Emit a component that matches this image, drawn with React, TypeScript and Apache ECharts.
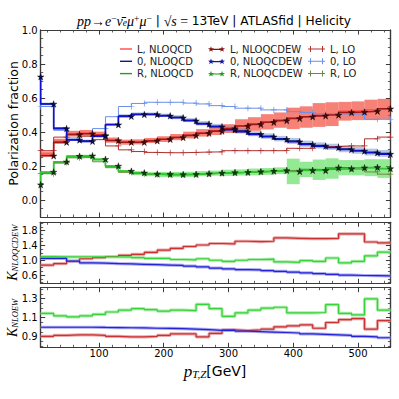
import React, { useEffect, useRef } from "react";
import * as echarts from "echarts";

// Bin edges of the pT,Z distribution (GeV)
const binEdges = [10, 30, 50, 70, 90, 110, 130, 150, 170, 190, 210, 230, 250, 270, 290, 310, 330, 350, 370, 390, 410, 430, 450, 470, 490, 510, 530, 550];

// ---- Polarization fractions (main panel), one value per bin ----
const L_NLOQCD = [0.27, 0.345, 0.39, 0.395, 0.385, 0.352, 0.34, 0.342, 0.35, 0.358, 0.37, 0.382, 0.395, 0.407, 0.42, 0.435, 0.447, 0.46, 0.47, 0.48, 0.488, 0.5, 0.505, 0.522, 0.525, 0.53, 0.535];
const L_NLOQCD_unc = [0.015, 0.015, 0.017, 0.017, 0.017, 0.015, 0.015, 0.015, 0.015, 0.017, 0.018, 0.02, 0.022, 0.025, 0.026, 0.04, 0.04, 0.045, 0.045, 0.063, 0.063, 0.07, 0.07, 0.055, 0.055, 0.06, 0.06];
const O_NLOQCD = [0.565, 0.422, 0.355, 0.347, 0.378, 0.445, 0.495, 0.505, 0.505, 0.498, 0.487, 0.47, 0.451, 0.435, 0.418, 0.406, 0.39, 0.376, 0.361, 0.347, 0.331, 0.321, 0.313, 0.301, 0.292, 0.282, 0.274];
const O_NLOQCD_unc = [0.008, 0.008, 0.008, 0.008, 0.008, 0.008, 0.01, 0.01, 0.01, 0.01, 0.012, 0.012, 0.013, 0.013, 0.014, 0.015, 0.015, 0.016, 0.016, 0.018, 0.018, 0.018, 0.018, 0.02, 0.02, 0.02, 0.02];
const R_NLOQCD = [0.16, 0.22, 0.255, 0.258, 0.238, 0.198, 0.168, 0.158, 0.152, 0.15, 0.15, 0.151, 0.155, 0.158, 0.16, 0.162, 0.165, 0.168, 0.172, 0.168, 0.18, 0.178, 0.185, 0.19, 0.19, 0.19, 0.185];
const R_NLOQCD_unc = [0.008, 0.008, 0.008, 0.008, 0.008, 0.008, 0.008, 0.012, 0.012, 0.015, 0.015, 0.015, 0.015, 0.015, 0.018, 0.018, 0.02, 0.02, 0.02, 0.075, 0.045, 0.06, 0.06, 0.045, 0.045, 0.05, 0.055];

const L_NLOQCDEW = [0.26, 0.34, 0.385, 0.39, 0.38, 0.35, 0.34, 0.34, 0.348, 0.357, 0.368, 0.38, 0.393, 0.405, 0.42, 0.435, 0.445, 0.457, 0.467, 0.48, 0.49, 0.495, 0.5, 0.515, 0.518, 0.522, 0.537];
const O_NLOQCDEW_first = 0.725;
const O_NLOQCDEW = [0.565, 0.42, 0.353, 0.345, 0.376, 0.443, 0.492, 0.503, 0.503, 0.495, 0.484, 0.466, 0.447, 0.431, 0.413, 0.402, 0.386, 0.372, 0.357, 0.343, 0.327, 0.317, 0.309, 0.297, 0.288, 0.278, 0.27];
const R_NLOQCDEW_first = 0.09;
const R_NLOQCDEW = [0.165, 0.225, 0.258, 0.26, 0.24, 0.2, 0.17, 0.16, 0.153, 0.151, 0.15, 0.151, 0.155, 0.159, 0.162, 0.163, 0.167, 0.17, 0.174, 0.168, 0.174, 0.174, 0.19, 0.184, 0.19, 0.192, 0.185];

const L_LO = [0.29, 0.37, 0.385, 0.375, 0.355, 0.318, 0.295, 0.285, 0.28, 0.278, 0.278, 0.28, 0.282, 0.283, 0.29, 0.29, 0.29, 0.29, 0.29, 0.304, 0.304, 0.314, 0.314, 0.318, 0.318, 0.36, 0.37];
const O_LO = [0.55, 0.41, 0.365, 0.38, 0.42, 0.49, 0.55, 0.568, 0.575, 0.575, 0.575, 0.57, 0.565, 0.555, 0.55, 0.54, 0.54, 0.53, 0.53, 0.52, 0.515, 0.507, 0.506, 0.505, 0.505, 0.475, 0.475];
const R_LO = [0.155, 0.22, 0.248, 0.25, 0.225, 0.19, 0.163, 0.155, 0.15, 0.148, 0.148, 0.15, 0.153, 0.157, 0.16, 0.162, 0.165, 0.168, 0.172, 0.175, 0.176, 0.178, 0.18, 0.182, 0.182, 0.165, 0.152];

// ---- K_NLOQCDEW ratio panel ----
const K_QCDEW_L = [0.87, 0.91, 0.97, 1.04, 1.07, 1.1, 1.13, 1.16, 1.21, 1.27, 1.32, 1.37, 1.41, 1.45, 1.44, 1.51, 1.5, 1.51, 1.6, 1.59, 1.58, 1.58, 1.59, 1.71, 1.71, 1.49, 1.465];
const K_QCDEW_0 = [1.05, 1.05, 0.98, 0.93, 0.92, 0.91, 0.9, 0.89, 0.88, 0.87, 0.86, 0.84, 0.82, 0.79, 0.77, 0.75, 0.74, 0.72, 0.7, 0.68, 0.66, 0.64, 0.62, 0.6, 0.59, 0.585, 0.58];
const K_QCDEW_R = [1.1, 1.09, 1.09, 1.09, 1.09, 1.09, 1.09, 1.07, 1.05, 1.05, 1.02, 1.01, 1.04, 1.0, 0.97, 1.0, 1.02, 1.03, 0.955, 0.94, 0.99, 0.97, 1.06, 0.93, 0.97, 1.12, 1.22];

// ---- K_NLOEW ratio panel ----
const K_EW_L = [0.905, 0.915, 0.92, 0.92, 0.915, 0.905, 0.9, 0.9, 0.905, 0.915, 0.93, 0.93, 0.9, 0.935, 0.972, 0.965, 0.972, 0.98, 1.005, 1.015, 1.025, 0.99, 1.05, 1.08, 1.09, 0.98, 1.07];
const K_EW_0 = [1.0, 1.0, 1.0, 1.0, 0.998, 0.997, 0.995, 0.993, 0.99, 0.988, 0.985, 0.98, 0.975, 0.968, 0.97, 0.96, 0.955, 0.95, 0.945, 0.94, 0.93, 0.925, 0.92, 0.915, 0.905, 0.9, 0.89];
const K_EW_R = [1.145, 1.12, 1.11, 1.12, 1.135, 1.16, 1.18, 1.195, 1.185, 1.17, 1.18, 1.175, 1.24, 1.195, 1.115, 1.15, 1.18, 1.2, 1.21, 1.15, 1.15, 1.155, 1.237, 1.145, 1.13, 1.297, 1.18];

// ---- Ticks ----
const xMajorTicks = [100, 200, 300, 400, 500];
const xMinorTicks = [20, 40, 60, 80, 100, 120, 140, 160, 180, 200, 220, 240, 260, 280, 300, 320, 340, 360, 380, 400, 420, 440, 460, 480, 500, 520, 540];
const yMainMajor = [0, 0.2, 0.4, 0.6, 0.8, 1.0];
const yMainMinor = [-0.1, -0.05, 0, 0.05, 0.1, 0.15, 0.2, 0.25, 0.3, 0.35, 0.4, 0.45, 0.5, 0.55, 0.6, 0.65, 0.7, 0.75, 0.8, 0.85, 0.9, 0.95, 1.0];
const yMidMajor = [0.6, 1.0, 1.4, 1.8];
const yMidMinor = [0.4, 0.5, 0.6, 0.7, 0.8, 0.9, 1.0, 1.1, 1.2, 1.3, 1.4, 1.5, 1.6, 1.7, 1.8, 1.9, 2.0];
const yBotMajor = [0.9, 1.1, 1.3];
const yBotMinor = [0.8, 0.85, 0.9, 0.95, 1.0, 1.05, 1.1, 1.15, 1.2, 1.25, 1.3, 1.35, 1.4];

const FRAME = "#3a3a3a";
const SANS = "DejaVu Sans";
const SERIF = "Liberation Serif";
const STAR = "path://M5,0L6.18,3.82L10,3.82L6.91,6.18L8.09,10L5,7.64L1.91,10L3.09,6.18L0,3.82L3.82,3.82Z";
const PLUS = "path://M0,4.4H10V5.6H0Z M4.4,0H5.6V10H4.4Z";
// legend icons: a line with a marker at each end, as matplotlib draws them
const ICON_LINE = "path://M0,0H120V14H0Z";
const ICON_STARS =
  "path://M32,2L39.06,22.29L60.53,22.73L43.41,35.71L49.64,56.27L32,44L14.36,56.27L20.59,35.71L3.47,22.73L24.94,22.29Z" +
  "M138,2L145.06,22.29L166.53,22.73L149.41,35.71L155.64,56.27L138,44L120.36,56.27L126.59,35.71L109.47,22.73L130.94,22.29Z" +
  "M32,27H138V38H32Z";
const ICON_PLUS = "path://M0,30H170V40H0Z M20,5H30V65H20Z M140,5H150V65H140Z";

function stepData(vals: number[], first?: number, hideFirst?: boolean): any[] {
  const head: any = hideFirst
    ? { value: [binEdges[0], first ?? vals[0]], symbol: "none" }
    : [binEdges[0], first ?? vals[0]];
  return [head, ...vals.map((v, i) => [binEdges[i + 1], v])];
}

function bandSeries(centers: number[], unc: number[], color: string) {
  return {
    type: "custom",
    xAxisIndex: 0,
    yAxisIndex: 0,
    silent: true,
    z: 1,
    encode: { x: [0, 1], y: [2, 3] },
    data: centers.map((c, i) => [binEdges[i], binEdges[i + 1], c - unc[i], c + unc[i]]),
    renderItem: (_p: any, api: any) => {
      const a = api.coord([api.value(0), api.value(3)]);
      const b = api.coord([api.value(1), api.value(2)]);
      return {
        type: "rect",
        shape: { x: a[0], y: a[1], width: b[0] - a[0], height: b[1] - a[1] },
        style: { fill: color },
      };
    },
  };
}

function line(name: string | undefined, data: any[], color: string, width: number, g: number, extra: any = {}) {
  return {
    type: "line",
    name,
    xAxisIndex: 4 * g,
    yAxisIndex: 4 * g,
    step: "start",
    data,
    symbol: "none",
    showAllSymbol: true,
    lineStyle: { color, width },
    itemStyle: { color },
    z: 3,
    ...extra,
  };
}

function starLine(name: string, data: any[], color: string, fill: string) {
  return line(name, data, color, 1.6, 0, {
    symbol: STAR,
    symbolSize: 6.5,
    itemStyle: { color: fill, borderColor: "#000", borderWidth: 0.4 },
    z: 5,
  });
}

function plusLine(name: string, data: any[], color: string) {
  return line(name, data, color, 1, 0, {
    symbol: PLUS,
    symbolSize: 6,
    itemStyle: { color },
    z: 4,
  });
}

function xAxes(g: number, labels: boolean) {
  const mk = (position: string, ticks: number[], len: number, showLabel: boolean) => ({
    type: "value",
    gridIndex: g,
    position,
    min: 10,
    max: 550,
    axisLine: { show: true, onZero: false, lineStyle: { color: FRAME, width: 1.2 } },
    axisTick: { show: true, inside: true, length: len, customValues: ticks, lineStyle: { color: FRAME, width: len > 3 ? 1 : 0.8 } },
    axisLabel: { show: showLabel, customValues: xMajorTicks, margin: 1, fontSize: 10, fontFamily: SANS, color: "#000" },
    splitLine: { show: false },
  });
  return [
    mk("bottom", xMajorTicks, 4.5, labels),
    mk("bottom", xMinorTicks, 2.5, false),
    mk("top", xMajorTicks, 4.5, false),
    mk("top", xMinorTicks, 2.5, false),
  ];
}

function yAxes(g: number, min: number, max: number, major: number[], minor: number[]) {
  const mk = (position: string, ticks: number[], len: number, showLabel: boolean) => ({
    type: "value",
    gridIndex: g,
    position,
    min,
    max,
    axisLine: { show: true, onZero: false, lineStyle: { color: FRAME, width: 1.2 } },
    axisTick: { show: true, inside: true, length: len, customValues: ticks, lineStyle: { color: FRAME, width: len > 3 ? 1 : 0.8 } },
    axisLabel: {
      show: showLabel,
      customValues: major,
      margin: 3,
      fontSize: 10,
      fontFamily: SANS,
      color: "#000",
      formatter: (v: number) => v.toFixed(1),
    },
    splitLine: { show: false },
  });
  return [
    mk("left", major, 4.5, true),
    mk("left", minor, 2.5, false),
    mk("right", major, 4.5, false),
    mk("right", minor, 2.5, false),
  ];
}

function ratioSeries(g: number, vals: number[], color: string, light: string) {
  const d = stepData(vals);
  return [
    line(undefined, d, light, 3.2, g, { z: 2, silent: true }),
    line(undefined, d, color, 1.2, g, { z: 3, silent: true }),
  ];
}

const legendBase = {
  orient: "vertical",
  top: 44,
  itemHeight: 7,
  itemGap: 2.3,
  padding: 0,
  selectedMode: false,
  textStyle: { fontSize: 10, fontFamily: SANS, color: "#222", lineHeight: 10 },
};

export default function App() {
  const ref = useRef<HTMLDivElement>(null);
  useEffect(() => {
    if (!ref.current) return;
    const chart = echarts.init(ref.current, null, { renderer: "svg" });
    const option: any = {
      animation: false,
      backgroundColor: "#fff",
      grid: [
        { left: 40.7, right: 8.6, top: 30, height: 187 },
        { left: 40.7, right: 8.6, top: 222.3, height: 61 },
        { left: 40.7, right: 8.6, top: 287.7, height: 59.6 },
      ],
      xAxis: [...xAxes(0, false), ...xAxes(1, false), ...xAxes(2, true)],
      yAxis: [
        ...yAxes(0, -0.1, 1.0, yMainMajor, yMainMinor),
        ...yAxes(1, 0.38, 2.02, yMidMajor, yMidMinor),
        ...yAxes(2, 0.79, 1.415, yBotMajor, yBotMinor),
      ],
      legend: [
        {
          ...legendBase,
          left: 120,
          itemWidth: 12,
          data: ["L, NLOQCD", "0, NLOQCD", "R, NLOQCD"].map((n) => ({ name: n, icon: ICON_LINE })),
        },
        {
          ...legendBase,
          left: 208,
          itemWidth: 17,
          data: [
            { name: "L, NLOQCDEW", icon: ICON_STARS, itemStyle: { color: "#8a1414", borderWidth: 0, borderColor: "#8a1414" } },
            { name: "0, NLOQCDEW", icon: ICON_STARS, itemStyle: { color: "#1414a0", borderWidth: 0, borderColor: "#1414a0" } },
            { name: "R, NLOQCDEW", icon: ICON_STARS, itemStyle: { color: "#1f9a1f", borderWidth: 0, borderColor: "#1f9a1f" } },
          ],
        },
        {
          ...legendBase,
          left: 308,
          itemWidth: 17,
          data: ["L, LO", "0, LO", "R, LO"].map((n) => ({ name: n, icon: ICON_PLUS })),
        },
      ],
      series: [
        bandSeries(L_NLOQCD, L_NLOQCD_unc, "rgba(240,70,55,0.68)"),
        bandSeries(O_NLOQCD, O_NLOQCD_unc, "rgba(90,130,190,0.45)"),
        bandSeries(R_NLOQCD, R_NLOQCD_unc, "rgba(60,215,60,0.55)"),
        line("L, NLOQCD", stepData(L_NLOQCD), "#ff4a4a", 1.3, 0),
        line("0, NLOQCD", stepData(O_NLOQCD), "#16167a", 1.3, 0),
        line("R, NLOQCD", stepData(R_NLOQCD), "#2a9a2a", 1.3, 0),
        plusLine("L, LO", stepData(L_LO), "#b03030"),
        plusLine("0, LO", stepData(O_LO), "#6a90ea"),
        plusLine("R, LO", stepData(R_LO), "#6b8a3c"),
        starLine("L, NLOQCDEW", stepData(L_NLOQCDEW, undefined, true), "#a01818", "#4a0808"),
        starLine("0, NLOQCDEW", stepData(O_NLOQCDEW, O_NLOQCDEW_first), "#1010d0", "#0a0a50"),
        starLine("R, NLOQCDEW", stepData(R_NLOQCDEW, R_NLOQCDEW_first), "#2ec82e", "#0a400a"),
        ...ratioSeries(1, K_QCDEW_L, "#c83232", "#eaa9a9"),
        ...ratioSeries(1, K_QCDEW_R, "#3ad23a", "#a9eca9"),
        ...ratioSeries(1, K_QCDEW_0, "#2222d8", "#aaaaf2"),
        ...ratioSeries(2, K_EW_L, "#c83232", "#eaa9a9"),
        ...ratioSeries(2, K_EW_R, "#3ad23a", "#a9eca9"),
        ...ratioSeries(2, K_EW_0, "#2222d8", "#aaaaf2"),
      ],
      graphic: [
        {
          type: "text",
          x: 214,
          y: 21,
          style: {
            text: "{m|pp}{r|→}{m|e}{sup|−}{m|ν̄}{sub|e}{m|μ}{sup|+}{m|μ}{sup|−}{s| | }{r|√}{m|s}{r| = }{s|13TeV | ATLASfid | Helicity}",
            align: "center",
            verticalAlign: "middle",
            fill: "#000",
            rich: {
              m: { fontFamily: SERIF, fontStyle: "italic", fontSize: 14, fill: "#000" },
              r: { fontFamily: SERIF, fontSize: 14, fill: "#000" },
              sup: { fontFamily: SERIF, fontSize: 9.5, verticalAlign: "top", fill: "#000" },
              sub: { fontFamily: SERIF, fontStyle: "italic", fontSize: 9.5, verticalAlign: "bottom", fill: "#000" },
              s: { fontFamily: SANS, fontSize: 12.2, fill: "#000" },
            },
          },
        },
        {
          type: "text",
          x: 13,
          y: 123.5,
          rotation: Math.PI / 2,
          style: { text: "Polarization fraction", fontFamily: SANS, fontSize: 12.5, fill: "#000", align: "center", verticalAlign: "middle" },
        },
        {
          type: "text",
          x: 12,
          y: 252.8,
          rotation: Math.PI / 2,
          style: {
            text: "{k|K}{s|NLOQCDEW}",
            align: "center",
            verticalAlign: "middle",
            rich: {
              k: { fontFamily: SERIF, fontStyle: "italic", fontSize: 14, fill: "#000" },
              s: { fontFamily: SERIF, fontStyle: "italic", fontSize: 8.5, verticalAlign: "bottom", fill: "#000" },
            },
          },
        },
        {
          type: "text",
          x: 12,
          y: 318,
          rotation: Math.PI / 2,
          style: {
            text: "{k|K}{s|NLOEW}",
            align: "center",
            verticalAlign: "middle",
            rich: {
              k: { fontFamily: SERIF, fontStyle: "italic", fontSize: 14, fill: "#000" },
              s: { fontFamily: SERIF, fontStyle: "italic", fontSize: 8.5, verticalAlign: "bottom", fill: "#000" },
            },
          },
        },
        {
          type: "text",
          x: 215,
          y: 371,
          style: {
            text: "{p|p}{s|T,Z}{g|[GeV]}",
            align: "center",
            verticalAlign: "middle",
            rich: {
              p: { fontFamily: SERIF, fontStyle: "italic", fontSize: 17, fill: "#000" },
              s: { fontFamily: SERIF, fontStyle: "italic", fontSize: 11, verticalAlign: "bottom", fill: "#000" },
              g: { fontFamily: SANS, fontSize: 14, fill: "#000" },
            },
          },
        },
      ],
    };
    chart.setOption(option);
    return () => chart.dispose();
  }, []);
  return (
    <div
      ref={ref}
      style={{ position: "fixed", left: 0, top: 0, width: 399, height: 399, background: "#fff" }}
    />
  );
}
